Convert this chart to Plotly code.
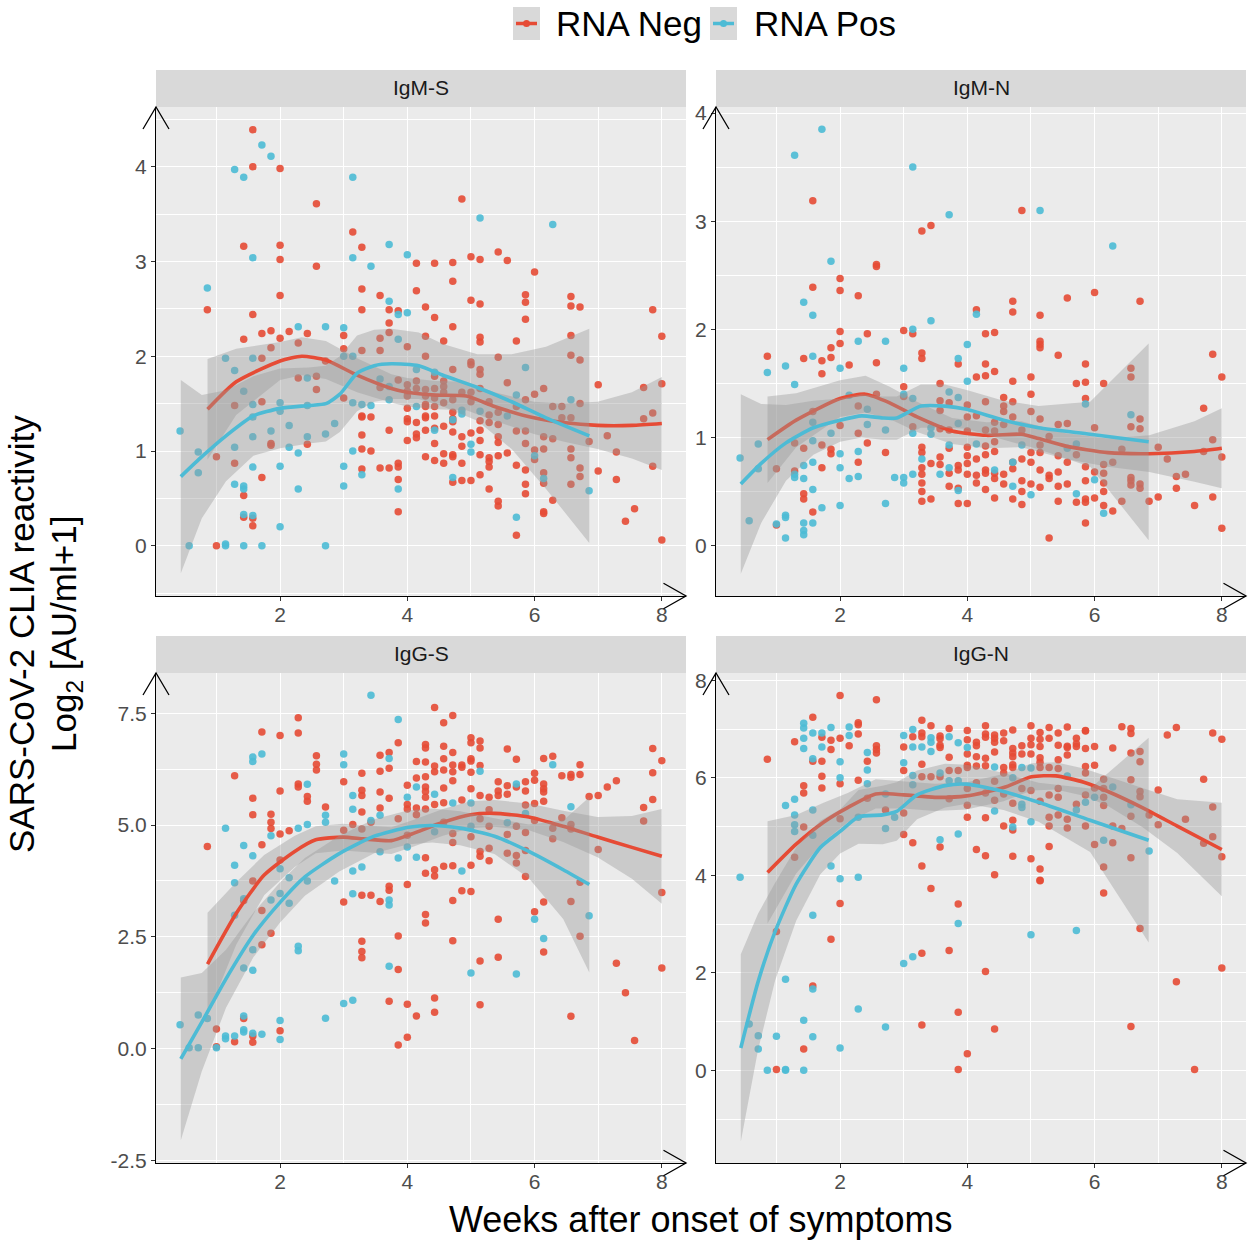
import plotly.graph_objects as go

# ---------------------------------------------------------------- data
# points: {day after onset: [log2 values]}  (x in weeks = day / 7)
igms_neg = {6: [2.49], 7: [0.94, 0.00], 9: [1.48, 0.87], 10: [3.16, 2.18, 0.53, 0.30],
            11: [4.39, 4.00, 2.44, 0.29, 0.21], 12: [2.24, 1.98, 1.52, 0.72], 13: [2.27, 2.09, 1.08, 1.06],
            14: [3.98, 3.17, 3.02, 2.64, 2.19], 15: [2.26], 16: [2.14, 1.77], 17: [2.24, 1.07],
            18: [3.61, 2.95, 1.79, 1.65], 19: [1.95], 21: [2.22, 2.08, 1.56], 22: [3.31],
            23: [3.15, 2.71, 2.49, 2.06, 1.37, 1.36, 1.17, 1.02, 0.81], 24: [1.36, 1.00],
            25: [2.64, 2.19, 2.06, 1.67, 0.82], 26: [2.49, 2.35, 2.25, 1.22, 0.82],
            27: [2.48, 1.75, 0.87, 0.83, 0.70, 0.36], 28: [2.10, 1.70, 1.63, 1.58, 1.45, 1.34, 1.31, 1.11],
            29: [2.98, 2.69, 1.74, 1.66, 1.30, 1.18, 1.14],
            30: [2.52, 2.21, 2.00, 1.65, 1.58, 1.49, 1.47, 1.37, 1.35, 1.22, 0.94],
            31: [2.98, 2.41, 1.79, 1.66, 1.56, 1.47, 1.37, 1.24, 1.08, 0.90],
            32: [2.16, 1.74, 1.68, 1.62, 1.51, 1.26, 0.97, 0.87],
            33: [2.99, 2.79, 2.31, 1.86, 1.54, 1.41, 1.34, 1.31, 1.20, 0.96, 0.94, 0.67],
            34: [3.66, 1.62, 1.15, 1.05, 0.87, 0.69], 35: [3.05, 2.59, 1.94, 1.91, 1.62, 1.52, 1.19, 0.69],
            36: [3.02, 2.55, 2.20, 2.15, 1.86, 1.81, 1.66, 1.32, 1.22, 1.11, 0.96, 0.75],
            37: [1.52, 1.38, 1.30, 0.93, 0.89, 0.83, 0.60],
            38: [3.10, 1.99, 1.41, 1.28, 1.15, 1.09, 0.95, 0.47, 0.42], 39: [3.01, 1.72, 0.98],
            40: [2.16, 1.47, 1.21, 0.85, 0.11], 41: [2.65, 2.57, 2.39, 1.54, 1.21, 1.08, 0.80, 0.65, 0.55],
            42: [2.89, 1.60, 1.01, 0.91], 43: [1.66, 1.15, 1.02, 0.77, 0.66, 0.36, 0.34],
            44: [1.47, 1.13, 0.48], 45: [1.47, 1.35], 46: [2.63, 2.53, 2.22, 2.01, 1.35, 1.02, 0.93, 0.65],
            47: [2.52, 1.96, 1.50, 0.82, 0.73], 48: [1.10], 49: [1.70, 0.79], 50: [1.16], 51: [0.99, 0.70],
            52: [0.26], 53: [0.39], 54: [1.67, 1.34], 55: [2.49, 1.40, 0.84], 56: [2.21, 1.71, 0.06]}
igms_pos = {3: [1.21], 4: [0.00], 5: [0.99, 0.77], 6: [2.72], 8: [1.98, 0.02, 0.00],
            9: [3.97, 1.85, 1.04, 0.65], 10: [3.89, 1.63, 0.63, 0.60, 0.33, 0.00],
            11: [3.04, 1.98, 1.49, 1.36, 1.15, 0.83, 0.32], 12: [4.23, 0.00], 13: [4.11, 1.21],
            14: [1.51, 1.42, 0.84, 0.20], 15: [1.27, 1.04], 16: [2.31, 0.98, 0.60], 17: [1.77, 1.48, 1.15],
            19: [2.31, 1.18, 0.00], 20: [1.29], 21: [2.30, 2.00, 0.84, 0.63], 22: [3.89, 3.04, 2.00, 1.51, 1.00],
            23: [1.49, 0.75], 24: [2.95, 1.48], 25: [1.76], 26: [3.18, 2.58, 1.68, 1.54], 27: [2.44, 2.18, 0.60],
            28: [3.07, 2.46], 29: [1.86, 1.47], 31: [1.83, 1.22], 33: [1.33, 0.72], 34: [1.43, 1.39],
            35: [1.07, 0.99], 36: [3.46, 1.42], 39: [1.37], 40: [1.59, 0.30], 41: [1.88], 42: [0.95],
            43: [0.71], 44: [3.39], 46: [1.54], 48: [0.58]}

igmn_neg = {6: [1.75], 7: [0.71, 0.19], 9: [0.95, 0.69], 10: [1.73, 0.90, 0.48, 0.43],
            11: [3.19, 2.39, 1.24, 0.31], 12: [1.71, 1.59, 0.93, 0.72], 13: [1.83, 1.74, 0.89, 0.85],
            14: [2.47, 2.36, 1.98, 1.87, 1.11], 15: [1.67], 16: [2.31, 1.29, 1.04, 0.77], 17: [1.96, 0.95],
            18: [2.60, 2.58, 1.69, 1.40], 19: [0.86], 21: [1.99, 1.47, 1.38], 22: [1.96, 1.10],
            23: [2.91, 1.78, 1.73, 0.91, 0.86, 0.72, 0.66, 0.58, 0.50, 0.41], 24: [2.96, 0.76, 0.43],
            25: [1.50, 1.34, 1.25, 1.08, 0.82, 0.75], 26: [1.32, 1.07, 0.90, 0.67, 0.55],
            27: [1.68, 0.74, 0.70, 0.53, 0.39], 28: [1.30, 1.19, 1.06, 0.91, 0.83, 0.76, 0.66, 0.39],
            29: [2.18, 1.56, 1.20, 0.80, 0.65, 0.58],
            30: [1.96, 1.68, 1.57, 1.33, 1.07, 0.92, 0.84, 0.70, 0.67, 0.52],
            31: [1.97, 1.61, 1.14, 1.06, 0.96, 0.87, 0.67, 0.62, 0.44], 32: [1.37, 1.29, 1.24, 1.12, 0.66, 0.57],
            33: [2.26, 2.16, 1.52, 1.33, 1.19, 0.77, 0.71, 0.43], 34: [3.10, 1.07, 0.80, 0.60, 0.50, 0.38],
            35: [1.56, 1.40, 1.24, 0.86, 0.77, 0.57], 36: [2.13, 1.89, 1.86, 1.83, 1.17, 0.93, 0.86, 0.70, 0.54],
            37: [1.01, 0.65, 0.62, 0.07], 38: [1.76, 1.12, 0.83, 0.68, 0.55, 0.41], 39: [2.29, 1.13, 0.77, 0.57],
            40: [1.50, 0.84, 0.40], 41: [1.68, 1.51, 1.36, 0.73, 0.60, 0.43, 0.40, 0.21],
            42: [2.34, 1.09, 0.68, 0.44], 43: [1.50, 0.75, 0.67, 0.58, 0.50, 0.37], 44: [0.77, 0.32],
            45: [0.89, 0.41], 46: [1.64, 1.56, 1.10, 0.63, 0.60, 0.56], 47: [2.26, 1.17, 1.08, 0.57, 0.53],
            48: [0.41], 49: [0.91, 0.45], 50: [0.80], 51: [0.64, 0.53], 52: [0.66], 53: [0.37],
            54: [1.27, 0.87], 55: [1.77, 0.98, 0.45], 56: [1.56, 0.82, 0.16]}
igmn_pos = {3: [0.81], 4: [0.23], 5: [0.94, 0.71], 6: [1.60], 7: [0.20], 8: [1.66, 0.28, 0.26, 0.07],
            9: [3.61, 1.49, 0.66, 0.63], 10: [2.25, 0.74, 0.62, 0.21, 0.14, 0.10],
            11: [2.13, 1.75, 1.14, 0.97, 0.77, 0.52, 0.21], 12: [3.85, 0.35], 13: [2.63, 1.04],
            14: [1.64, 0.85, 0.72, 0.37], 15: [1.39, 0.62], 16: [1.89, 0.87, 0.64], 17: [1.26, 1.12],
            19: [1.89, 1.07, 0.39], 20: [0.63], 21: [1.64, 1.40, 0.63, 0.58], 22: [3.50, 2.00, 1.36, 1.04, 0.66],
            23: [0.80], 24: [2.08, 1.09, 1.03], 25: [0.66], 26: [3.06, 1.42, 0.93, 0.72],
            27: [1.73, 1.37, 1.13, 0.51], 28: [1.86, 1.52], 29: [2.14, 0.94], 31: [0.70], 33: [0.77, 0.55],
            34: [0.93], 35: [0.47], 36: [3.10], 39: [0.90], 40: [0.94, 0.48], 41: [1.31], 42: [0.61],
            43: [0.30], 44: [2.77], 46: [1.21]}

iggs_neg = {6: [4.52], 7: [0.44, 0.04], 9: [6.10, 0.15], 10: [3.31, 0.67], 11: [5.60, 5.23, 3.75, 0.28, 0.14],
            12: [7.08, 4.56, 3.09, 2.32], 13: [5.24, 5.06, 4.92, 2.58], 14: [7.00, 5.76, 4.80, 4.22, 0.40],
            15: [4.87], 16: [7.40, 7.06, 5.92, 5.85], 17: [5.64, 5.53], 18: [6.55, 6.36, 6.23], 19: [5.40],
            21: [5.97, 4.88, 3.28], 22: [5.01], 23: [6.16, 5.78, 5.66, 5.29, 4.91, 3.43, 2.40, 2.17, 2.03],
            24: [5.06, 3.43], 25: [6.56, 6.20, 5.74, 5.38, 3.29], 26: [6.62, 6.27, 5.60, 3.63, 3.54, 1.06],
            27: [6.84, 5.14, 2.52, 1.77, 0.08], 28: [5.89, 5.46, 5.36, 4.77, 3.67, 0.99, 0.25],
            29: [6.42, 6.05, 5.38, 5.23, 0.73],
            30: [6.80, 6.72, 6.41, 6.08, 5.85, 5.75, 5.62, 5.36, 4.27, 3.92, 3.00, 2.81],
            31: [7.63, 6.32, 6.19, 5.46, 4.00, 3.86, 1.13, 0.81], 32: [7.29, 6.76, 6.48, 6.23, 5.83, 5.50, 5.06, 4.08],
            33: [7.45, 6.62, 6.34, 6.19, 5.99, 4.81, 4.61, 4.09, 3.31, 2.41], 34: [6.34, 6.29, 5.56, 3.53],
            35: [6.95, 6.84, 6.48, 6.43, 6.18, 5.81, 4.74, 4.10, 3.51],
            36: [6.88, 6.72, 6.33, 5.66, 5.14, 4.41, 4.30, 1.96, 0.98], 37: [5.62, 5.34, 4.97, 4.48, 4.20],
            38: [5.97, 5.76, 5.66, 2.89, 2.04], 39: [6.70, 5.88, 5.69, 4.79, 4.37], 40: [6.47, 5.85, 4.97, 4.32, 4.15],
            41: [5.97, 5.76, 5.45, 4.83, 4.43, 3.85], 42: [6.16, 6.00, 5.48, 5.10, 3.06],
            43: [6.49, 5.92, 5.81, 5.74, 5.53, 3.28, 2.16], 44: [6.54, 4.93, 4.69], 45: [6.10, 5.16],
            46: [6.13, 6.07, 5.01, 4.91, 3.29, 0.72], 47: [6.35, 6.13, 3.72, 2.51], 48: [5.64], 49: [5.66, 4.45],
            50: [5.85], 51: [5.99, 1.91], 52: [1.25], 53: [0.18], 54: [5.39, 5.09], 55: [6.71, 6.17, 5.57],
            56: [6.44, 3.49, 1.80]}
iggs_pos = {3: [0.53], 4: [0.02], 5: [0.75, 0.02], 6: [0.67], 7: [0.02], 8: [4.93, 0.28, 0.22],
            9: [4.10, 3.71, 2.98, 0.28], 10: [4.54, 3.35, 1.80, 0.73, 0.42, 0.37],
            11: [6.52, 6.42, 4.31, 2.21, 1.75, 0.34], 12: [6.59, 0.32], 13: [4.76, 3.32], 14: [4.02, 3.47, 0.63, 0.20],
            15: [3.82, 3.25], 16: [4.93, 2.29, 2.19], 17: [5.91, 5.01, 3.75], 19: [5.22, 5.06, 0.68], 20: [3.75],
            21: [6.59, 6.35, 1.01], 22: [5.66, 5.35, 3.97, 3.46, 1.08], 23: [4.06], 24: [7.90, 5.10],
            25: [5.22, 4.40], 26: [6.49, 3.32, 3.21, 1.84], 27: [7.36, 4.26], 28: [5.62, 4.51], 29: [5.85, 4.28],
            31: [5.69, 4.85], 33: [5.49], 34: [3.97], 35: [5.49, 4.97, 1.69], 36: [6.20], 39: [5.05],
            40: [5.92, 1.67], 41: [5.26], 42: [2.89], 43: [2.46], 44: [6.35], 46: [5.41], 48: [2.97]}

iggn_neg = {6: [6.38], 7: [2.85, 0.02], 9: [6.74, 4.37], 10: [5.84, 5.69, 4.99, 0.44], 11: [7.24, 6.34, 1.73],
            12: [6.83, 6.34, 6.03, 5.79], 13: [6.77, 6.58, 2.69], 14: [7.69, 6.81, 5.88, 5.16, 3.42], 15: [6.66],
            16: [7.13, 7.09, 6.90, 5.95], 17: [6.34, 5.58], 18: [7.60, 6.66, 6.58, 6.51], 19: [5.34],
            21: [6.63, 6.15, 5.28, 4.84], 22: [6.84, 4.67], 23: [7.18, 6.92, 6.84, 6.28, 6.02, 4.19, 2.40, 0.93],
            24: [7.07, 6.02, 3.73], 25: [6.86, 6.80, 6.67, 6.62, 6.02, 4.58], 26: [7.01, 6.42, 6.15, 5.57, 2.46],
            27: [6.15, 3.41, 1.19, 0.02], 28: [6.97, 6.78, 6.49, 6.26, 6.21, 5.78, 5.44, 5.19, 0.34],
            29: [6.73, 6.66, 6.43, 6.24, 5.90, 4.53], 30: [7.07, 6.90, 6.83, 6.40, 6.25, 5.69, 5.18, 4.40, 2.03],
            31: [6.88, 6.81, 6.73, 6.53, 5.93, 5.54, 4.01, 0.85], 32: [6.92, 6.76, 6.21, 6.10, 5.67, 5.01],
            33: [6.98, 6.60, 6.51, 6.43, 6.27, 6.21, 5.48, 5.13, 4.93, 4.39], 34: [6.66, 6.49, 5.78],
            35: [7.07, 6.81, 6.68, 6.49, 5.74, 4.34], 36: [6.93, 6.79, 6.64, 6.41, 6.32, 6.21, 5.52, 4.13, 3.90, 3.89],
            37: [7.03, 6.81, 6.21, 5.65, 5.19, 5.01, 4.59], 38: [6.92, 6.67, 6.37, 6.19, 5.78, 5.60, 5.24],
            39: [7.04, 6.65, 6.62, 6.47, 5.15, 4.97], 40: [6.81, 6.70, 6.64, 5.46],
            41: [6.97, 6.96, 6.60, 6.23, 6.10, 5.65, 5.01], 42: [6.64, 6.26, 5.79, 4.63],
            43: [5.97, 5.78, 5.60, 5.43, 4.17, 3.64], 44: [6.61, 5.01, 4.67], 45: [7.05, 4.96],
            46: [7.01, 6.91, 6.51, 5.96, 5.21, 4.36, 0.90], 47: [6.54, 6.33, 5.72, 5.61, 2.91], 48: [5.24],
            49: [5.75, 5.04], 50: [6.88], 51: [7.03, 1.82], 52: [5.15], 53: [0.02], 54: [5.97, 4.66],
            55: [6.92, 5.40, 4.79], 56: [6.79, 4.38, 2.10]}
iggn_pos = {3: [3.96], 4: [0.95], 5: [0.71, 0.44], 6: [0.00], 7: [0.70], 8: [5.43, 1.87, 0.02, 0.00],
            9: [5.56, 5.24, 5.04, 4.90], 10: [7.12, 7.02, 6.81, 6.60, 1.03, 0.00],
            11: [6.92, 6.39, 5.34, 4.82, 3.18, 1.67, 0.69], 12: [6.92, 6.63], 13: [7.03, 4.19],
            14: [6.33, 6.00, 3.93, 0.46], 15: [7.04, 6.87], 16: [5.19, 3.96, 1.26], 17: [6.52, 6.16, 5.88],
            19: [5.67, 4.96, 0.89], 20: [5.19], 21: [6.87, 6.31, 2.19], 22: [6.99, 6.63, 6.05, 5.86, 2.33],
            23: [6.63], 24: [6.82, 6.73, 6.54], 25: [6.10, 4.73], 26: [6.84, 5.94], 27: [6.72, 5.94, 4.85, 3.01],
            28: [6.62], 31: [6.22, 5.32], 33: [6.00, 4.99], 34: [6.21, 5.46, 5.39], 35: [6.20, 5.10, 2.78],
            39: [6.04], 40: [5.34, 2.87], 41: [5.50], 42: [5.60], 43: [4.72], 44: [5.81], 46: [5.45], 48: [4.50]}

# smoothed fits (weeks, fit, lower CI, upper CI)
igms_neg_fx = [0.86, 1.31, 2.0, 2.34, 2.72, 3.21, 3.75, 4.0, 4.45, 4.93, 5.37, 5.99, 6.45, 6.99, 7.53, 8.0]
igms_neg_fy = [1.44, 1.73, 1.95, 2.0, 1.96, 1.80, 1.66, 1.62, 1.59, 1.58, 1.47, 1.35, 1.30, 1.27, 1.27, 1.29]
igms_neg_lo = [0.91, 1.38, 1.75, 1.80, 1.76, 1.62, 1.51, 1.47, 1.44, 1.43, 1.32, 1.18, 1.10, 1.02, 0.92, 0.80]
igms_neg_hi = [1.97, 2.08, 2.15, 2.20, 2.16, 1.98, 1.81, 1.77, 1.74, 1.73, 1.62, 1.52, 1.50, 1.52, 1.62, 1.78]
igms_pos_fx = [0.44, 0.77, 1.15, 1.58, 2.0, 2.45, 2.72, 2.94, 3.21, 3.48, 3.75, 4.18, 4.56, 5.10, 5.64, 6.18, 6.86]
igms_pos_fy = [0.73, 0.94, 1.16, 1.37, 1.45, 1.48, 1.50, 1.60, 1.82, 1.90, 1.92, 1.90, 1.80, 1.67, 1.52, 1.35, 1.16]
igms_pos_lo = [-0.29, 0.29, 0.68, 0.95, 1.03, 1.08, 1.10, 1.20, 1.42, 1.52, 1.55, 1.55, 1.47, 1.32, 1.02, 0.60, 0.03]
igms_pos_hi = [1.75, 1.59, 1.64, 1.79, 1.87, 1.88, 1.90, 2.00, 2.22, 2.28, 2.29, 2.25, 2.13, 2.02, 2.02, 2.10, 2.29]

igmn_neg_fx = [0.86, 1.31, 2.0, 2.40, 2.78, 3.21, 3.76, 4.30, 4.85, 5.12, 5.55, 6.21, 6.86, 7.57, 8.0]
igmn_neg_fy = [0.98, 1.16, 1.36, 1.40, 1.32, 1.19, 1.06, 1.02, 1.03, 0.99, 0.92, 0.86, 0.85, 0.87, 0.90]
igmn_neg_lo = [0.58, 0.91, 1.19, 1.23, 1.17, 1.05, 0.94, 0.90, 0.91, 0.87, 0.80, 0.73, 0.68, 0.59, 0.53]
igmn_neg_hi = [1.38, 1.41, 1.53, 1.57, 1.47, 1.33, 1.18, 1.14, 1.15, 1.11, 1.04, 0.99, 1.02, 1.15, 1.27]
igmn_pos_fx = [0.44, 0.76, 1.15, 1.58, 2.0, 2.34, 2.67, 2.89, 3.27, 3.65, 3.99, 4.57, 5.12, 5.93, 6.85]
igmn_pos_fy = [0.57, 0.76, 0.95, 1.09, 1.16, 1.20, 1.18, 1.18, 1.29, 1.29, 1.26, 1.16, 1.09, 1.03, 0.96]
igmn_pos_lo = [-0.26, 0.21, 0.60, 0.84, 0.96, 1.00, 0.98, 0.98, 1.09, 1.09, 1.08, 0.98, 0.89, 0.73, 0.05]
igmn_pos_hi = [1.40, 1.31, 1.30, 1.34, 1.36, 1.40, 1.38, 1.38, 1.49, 1.49, 1.44, 1.34, 1.29, 1.33, 1.87]

iggs_neg_fx = [0.86, 1.31, 1.75, 2.23, 2.56, 2.99, 3.31, 3.75, 4.07, 4.56, 4.99, 5.37, 5.91, 6.45, 6.99, 7.53, 8.0]
iggs_neg_fy = [1.89, 3.02, 3.88, 4.41, 4.67, 4.73, 4.69, 4.65, 4.80, 5.06, 5.23, 5.26, 5.18, 4.97, 4.73, 4.50, 4.30]
iggs_neg_lo = [0.74, 2.32, 3.43, 4.06, 4.37, 4.43, 4.39, 4.35, 4.50, 4.76, 4.93, 4.96, 4.88, 4.62, 4.28, 3.80, 3.24]
iggs_neg_hi = [3.04, 3.72, 4.33, 4.76, 4.97, 5.03, 4.99, 4.95, 5.10, 5.36, 5.53, 5.56, 5.48, 5.32, 5.18, 5.20, 5.36]
iggs_pos_fx = [0.44, 0.77, 1.15, 1.58, 2.0, 2.39, 2.93, 3.48, 4.02, 4.39, 4.83, 5.37, 5.91, 6.45, 6.86]
iggs_pos_fy = [-0.23, 0.59, 1.56, 2.54, 3.27, 3.84, 4.36, 4.75, 4.95, 4.99, 4.93, 4.75, 4.41, 4.0, 3.67]
iggs_pos_lo = [-2.05, -0.51, 0.91, 2.04, 2.82, 3.42, 3.96, 4.37, 4.57, 4.61, 4.55, 4.35, 3.81, 2.90, 1.70]
iggs_pos_hi = [1.59, 1.69, 2.21, 3.04, 3.72, 4.26, 4.76, 5.13, 5.33, 5.37, 5.31, 5.15, 5.01, 5.10, 5.62]

iggn_neg_fx = [0.86, 1.31, 1.74, 2.12, 2.56, 3.0, 3.49, 3.99, 4.57, 5.01, 5.39, 5.83, 6.21, 6.75, 7.30, 8.0]
iggn_neg_fy = [4.06, 4.64, 5.09, 5.39, 5.67, 5.65, 5.60, 5.63, 5.80, 6.02, 6.04, 5.91, 5.72, 5.39, 5.01, 4.53]
iggn_neg_lo = [3.01, 4.04, 4.69, 5.09, 5.37, 5.37, 5.32, 5.35, 5.52, 5.74, 5.76, 5.63, 5.42, 4.99, 4.46, 3.57]
iggn_neg_hi = [5.11, 5.24, 5.49, 5.69, 5.97, 5.93, 5.88, 5.91, 6.08, 6.30, 6.32, 6.19, 6.02, 5.79, 5.56, 5.49]
iggn_pos_fx = [0.44, 0.71, 0.98, 1.31, 1.69, 2.0, 2.29, 2.67, 2.89, 3.21, 3.65, 3.99, 4.57, 5.12, 5.93, 6.85]
iggn_pos_fy = [0.46, 1.81, 2.85, 3.82, 4.57, 4.90, 5.20, 5.24, 5.31, 5.65, 5.84, 5.87, 5.72, 5.50, 5.13, 4.72]
iggn_pos_lo = [-1.46, 0.41, 1.85, 3.07, 4.02, 4.45, 4.65, 4.64, 4.71, 5.15, 5.39, 5.47, 5.34, 5.10, 4.48, 2.62]
iggn_pos_hi = [2.38, 3.21, 3.85, 4.57, 5.12, 5.35, 5.75, 5.84, 5.91, 6.15, 6.29, 6.27, 6.10, 5.90, 5.78, 6.82]

panel_titles = ["IgM-S", "IgM-N", "IgG-S", "IgG-N"]
x_ticks = [2, 4, 6, 8]
y_ticks = [[0, 1, 2, 3, 4], [0, 1, 2, 3, 4], [-2.5, 0.0, 2.5, 5.0, 7.5], [0, 2, 4, 6, 8]]
y_ticktext = [["0", "1", "2", "3", "4"], ["0", "1", "2", "3", "4"],
              ["-2.5", "0.0", "2.5", "5.0", "7.5"], ["0", "2", "4", "6", "8"]]
group_names = ["RNA Neg", "RNA Pos"]

# ---------------------------------------------------------------- styling / layout
W, H = 1253, 1245
RED, BLUE = "#E64B35", "#4DBBD5"
FONT = "Liberation Sans, Arial, Helvetica, sans-serif"
BAND = "rgba(153,153,153,0.4)"


def px(x):
    return x / W


def py(y):
    return 1 - y / H


# pixel boxes of the panels (left, right, top, bottom) in screen pixels
boxes = [(156, 686, 107, 596), (716, 1246, 107, 596), (156, 686, 673, 1163), (716, 1246, 673, 1163)]
strip_h = 37
x_range = [0.05, 8.38]
y_ranges = [[-0.53, 4.63], [-0.466, 4.056], [-2.56, 8.40], [-1.90, 8.15]]
y_minor = [[-0.5, 0.5, 1.5, 2.5, 3.5, 4.5], [0.5, 1.5, 2.5, 3.5], [-1.25, 1.25, 3.75, 6.25],
           [-1, 1, 3, 5, 7]]

points = [(igms_neg, igms_pos), (igmn_neg, igmn_pos), (iggs_neg, iggs_pos), (iggn_neg, iggn_pos)]
fits = [
    ((igms_neg_fx, igms_neg_fy, igms_neg_lo, igms_neg_hi), (igms_pos_fx, igms_pos_fy, igms_pos_lo, igms_pos_hi)),
    ((igmn_neg_fx, igmn_neg_fy, igmn_neg_lo, igmn_neg_hi), (igmn_pos_fx, igmn_pos_fy, igmn_pos_lo, igmn_pos_hi)),
    ((iggs_neg_fx, iggs_neg_fy, iggs_neg_lo, iggs_neg_hi), (iggs_pos_fx, iggs_pos_fy, iggs_pos_lo, iggs_pos_hi)),
    ((iggn_neg_fx, iggn_neg_fy, iggn_neg_lo, iggn_neg_hi), (iggn_pos_fx, iggn_pos_fy, iggn_pos_lo, iggn_pos_hi)),
]
colors = [RED, BLUE]


def flatten(d):
    xs, ys = [], []
    for day, vals in d.items():
        for v in vals:
            xs.append(day / 7.0)
            ys.append(v)
    return xs, ys


fig = go.Figure()
shapes, annotations = [], []
layout = {}

for i in range(4):
    ax = "" if i == 0 else str(i + 1)
    xa, ya = "x" + ax, "y" + ax
    # points
    for g in range(2):
        xs, ys = flatten(points[i][g])
        fig.add_trace(go.Scatter(x=xs, y=ys, mode="markers", xaxis=xa, yaxis=ya, showlegend=False,
                                 name=group_names[g], cliponaxis=True,
                                 marker=dict(color=colors[g], size=7.5, opacity=0.9, line=dict(width=0))))
    # smooth: ribbon + line per group
    for g in range(2):
        fx, fy, lo, hi = fits[i][g]
        fig.add_trace(go.Scatter(x=list(fx) + list(fx)[::-1], y=list(hi) + list(lo)[::-1], mode="lines",
                                 fill="toself", fillcolor=BAND, line=dict(width=0), xaxis=xa, yaxis=ya,
                                 showlegend=False, hoverinfo="skip"))
        fig.add_trace(go.Scatter(x=fx, y=fy, mode="lines", line=dict(color=colors[g], width=3.6, shape="spline",
                                                                   smoothing=0.6),
                                 xaxis=xa, yaxis=ya, showlegend=False, name=group_names[g]))

    l, r, t, b = boxes[i]
    layout["xaxis" + ax] = dict(domain=[px(l), px(r)], anchor=ya, range=x_range, tickvals=x_ticks,
                                ticktext=[str(v) for v in x_ticks], showgrid=True, gridcolor="white",
                                gridwidth=1.2, zeroline=False, showline=True, linecolor="black", linewidth=1.2,
                                ticks="outside", ticklen=4, tickwidth=1.1, tickcolor="#333333", automargin=False,
                                ticklabelstandoff=-4,
                                tickfont=dict(family=FONT, size=21, color="#4D4D4D"),
                                minor=dict(tickvals=[1, 3, 5, 7], showgrid=True, gridcolor="white",
                                           gridwidth=0.6, ticks=""))
    layout["yaxis" + ax] = dict(domain=[py(b), py(t)], anchor=xa, range=y_ranges[i], tickvals=y_ticks[i],
                                ticktext=y_ticktext[i], showgrid=True, gridcolor="white", gridwidth=1.2,
                                zeroline=False, showline=True, linecolor="black", linewidth=1.2,
                                ticks="outside", ticklen=4, tickwidth=1.1, tickcolor="#333333", automargin=False,
                                tickfont=dict(family=FONT, size=21, color="#4D4D4D"),
                                minor=dict(tickvals=y_minor[i], showgrid=True, gridcolor="white",
                                           gridwidth=0.6, ticks=""))
    # strip
    shapes.append(dict(type="rect", xref="paper", yref="paper", x0=px(l), x1=px(r), y0=py(t), y1=py(t - strip_h),
                       fillcolor="#D9D9D9", line=dict(width=0), layer="below"))
    annotations.append(dict(text=panel_titles[i], x=px((l + r) / 2), y=py(t - strip_h / 2 - 1), xref="paper",
                            yref="paper", showarrow=False, xanchor="center", yanchor="middle",
                            font=dict(family=FONT, size=21, color="#1A1A1A")))
    # axis arrows (open heads)
    shapes.append(dict(type="path", xref="paper", yref="paper",
                       path=f"M {px(l - 13)} {py(t + 22)} L {px(l)} {py(t)} L {px(l + 13)} {py(t + 22)}",
                       line=dict(color="black", width=1.3)))
    shapes.append(dict(type="path", xref="paper", yref="paper",
                       path=f"M {px(r - 22.5)} {py(b - 12.7)} L {px(r)} {py(b)} L {px(r - 22.5)} {py(b + 12.7)}",
                       line=dict(color="black", width=1.3)))

# axis titles
annotations.append(dict(text="Weeks after onset of symptoms", x=px(701), y=py(1219), xref="paper", yref="paper",
                        showarrow=False, xanchor="center", yanchor="middle",
                        font=dict(family=FONT, size=36, color="black")))
annotations.append(dict(text="SARS-CoV-2 CLIA reactivity", x=px(21), y=py(634), xref="paper", yref="paper",
                        showarrow=False, xanchor="center", yanchor="middle", textangle=-90,
                        font=dict(family=FONT, size=35, color="black")))
annotations.append(dict(text="Log<sub>2</sub> [AU/ml+1]", x=px(66), y=py(634), xref="paper", yref="paper",
                        showarrow=False, xanchor="center", yanchor="middle", textangle=-90,
                        font=dict(family=FONT, size=35, color="black")))

# legend (drawn manually: grey key box, line with point, label)
legend_keys = [(513, 554), (710, 752)]
for g in range(2):
    kx, tx = legend_keys[g]
    shapes.append(dict(type="rect", xref="paper", yref="paper", x0=px(kx), x1=px(kx + 27), y0=py(40), y1=py(7),
                       fillcolor="#D9D9D9", line=dict(width=0)))
    shapes.append(dict(type="line", xref="paper", yref="paper", x0=px(kx + 3), x1=px(kx + 24), y0=py(23.5),
                       y1=py(23.5), line=dict(color=colors[g], width=3.5)))
    shapes.append(dict(type="circle", xref="paper", yref="paper", x0=px(kx + 10), x1=px(kx + 17), y0=py(20),
                       y1=py(27), fillcolor=colors[g], line=dict(width=0)))
    annotations.append(dict(text=group_names[g], x=px(tx), y=py(23), xref="paper", yref="paper",
                            showarrow=False, xanchor="left", yanchor="middle",
                            font=dict(family=FONT, size=35, color="black")))

fig.update_layout(width=W, height=H, margin=dict(l=0, r=0, t=0, b=0, pad=0, autoexpand=False),
                  plot_bgcolor="#EBEBEB", paper_bgcolor="white", showlegend=False,
                  shapes=shapes, annotations=annotations, font=dict(family=FONT), **layout)

fig.write_html("out.html")
